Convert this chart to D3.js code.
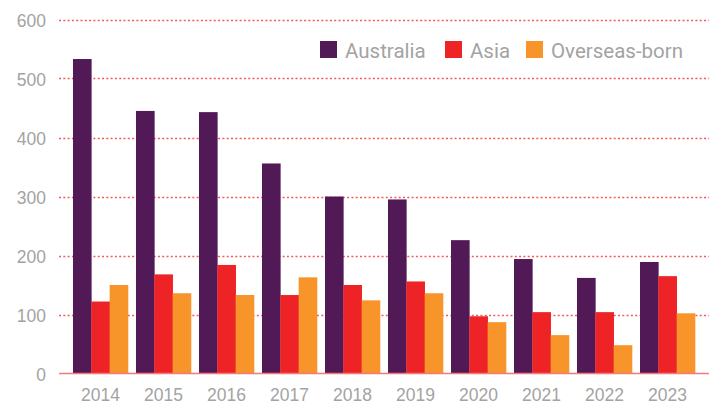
<!DOCTYPE html>
<html><head><meta charset="utf-8">
<script src="https://cdn.jsdelivr.net/npm/d3@7"></script>
<style>body{margin:0;background:#fff;}svg{display:block;font-family:Roboto,"Noto Sans",sans-serif;}</style>
</head><body><svg id="c" width="718" height="405"></svg>
<script>
const years = ["2014","2015","2016","2017","2018","2019","2020","2021","2022","2023"];
const seriesNames = ["Australia","Asia","Overseas-born"];
const australia = [533,445,443,356,300,295,226,194,162,189];
const asia = [122,168,184,133,150,156,97,104,104,165];
const overseas = [150,136,133,163,124,136,87,65,48,102];
const yTicks = [0,100,200,300,400,500,600];
const colors = ["#521957","#ee2326","#f7942a"];

const svg = d3.select("#c");
const mLeft = 59, mRight = 709, mTop = 19.5, mBottom = 373.5;
const x = d3.scaleBand().domain(years).range([mLeft, mRight]).paddingInner(0.127).paddingOuter(0.222);
const xs = d3.scaleBand().domain(seriesNames).range([0, x.bandwidth()]);
const y = d3.scaleLinear().domain([0,600]).range([mBottom, mTop]);

svg.append("g").selectAll("line").data(yTicks.filter(d=>d>0)).join("line")
  .attr("x1", mLeft).attr("x2", mRight)
  .attr("y1", d=>Math.round(y(d))+0.5).attr("y2", d=>Math.round(y(d))+0.5)
  .attr("stroke", "#f25a5a").attr("stroke-width", 1.3).attr("stroke-dasharray", "2,2.3");

const yAxis = d3.axisLeft(y).tickValues(yTicks).tickSize(0).tickPadding(0);
const ga = svg.append("g").attr("transform", `translate(${46},0)`).call(yAxis);
ga.select(".domain").remove();
ga.selectAll("text").attr("fill", "#a3a3a3").style("font-size", "17.5px").attr("dy", null).attr("y", 7);

const data = [australia, asia, overseas];
seriesNames.forEach((s, i) => {
  svg.append("g").selectAll("rect").data(years).join("rect")
    .attr("x", d => x(d) + xs(s))
    .attr("width", xs.bandwidth() + 0.3)
    .attr("y", (d, j) => y(data[i][j]))
    .attr("height", (d, j) => y(0) - y(data[i][j]))
    .attr("fill", colors[i]);
});

svg.append("line").attr("x1", mLeft).attr("x2", mRight)
  .attr("y1", y(0)).attr("y2", y(0)).attr("stroke", "#f27a7a").attr("stroke-width", 1.5);

const xAxis = d3.axisBottom(x).tickSize(0).tickPadding(0);
const gx = svg.append("g").attr("transform", `translate(0,${400.5})`).call(xAxis);
gx.select(".domain").remove();
gx.selectAll("text").attr("fill", "#a3a3a3").style("font-size", "17.5px").attr("dy", null).attr("y", 0);

const legendX = [320, 445, 526];
const lg = svg.append("g");
seriesNames.forEach((s, i) => {
  lg.append("rect").attr("x", legendX[i]).attr("y", 41).attr("width", 17).attr("height", 17).attr("fill", colors[i]);
  lg.append("text").attr("x", legendX[i] + 25).attr("y", 57.5)
    .attr("fill", "#a3a3a3").style("font-size", "20.5px").text(s);
});
</script></body></html>
